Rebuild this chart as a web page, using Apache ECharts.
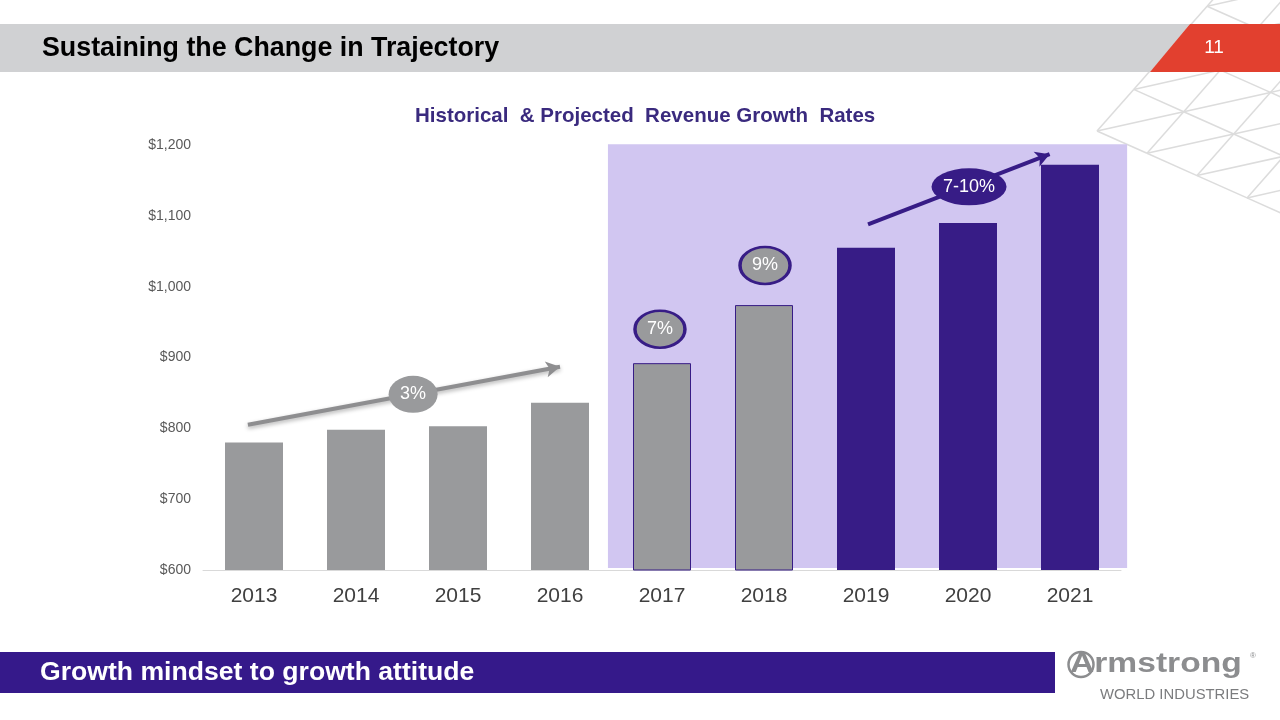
<!DOCTYPE html>
<html>
<head>
<meta charset="utf-8">
<script src="https://cdn.jsdelivr.net/npm/echarts@6/dist/echarts.min.js"></script>
<style>
html,body{margin:0;padding:0;background:#fff;}
#chart{width:1280px;height:720px;}
</style>
</head>
<body>
<div id="chart"></div>
<script>
// ---- data ----
const years = ['2013','2014','2015','2016','2017','2018','2019','2020','2021'];
const revenue = [780, 798, 803, 836, 892, 974, 1055, 1090, 1172];
const period = ['hist','hist','hist','hist','recent','recent','proj','proj','proj'];
const yMin = 600, yMax = 1200, yStep = 100;
const badgeText = ['3%', '7%', '9%', '7-10%'];
const badgeAnchor = [[1.56, 848], [3.98, 940], [5.01, 1030], [7.01, 1141]];
const arrowFrom = [[-0.06, 805], [6.02, 1088]];
const arrowTo = [[3.0, 887], [7.8, 1187]];
const projectedSpan = [[3.47, 603], [8.56, 1201]];

const GRAY = '#999A9C', PURPLE = '#371C86', LIGHT = '#D1C6F1';
const FONT = '"Liberation Sans", Arial, sans-serif';

const chart = echarts.init(document.getElementById('chart'), null, {renderer: 'canvas'});

const barData = revenue.map((v, i) => ({
  value: v,
  itemStyle: period[i] === 'proj' ? {color: PURPLE}
    : period[i] === 'recent' ? {color: GRAY, borderColor: PURPLE, borderWidth: 1}
    : {color: GRAY}
}));

const badgeStyles = [
  {color: GRAY, size: [49, 37], border: 0},
  {color: GRAY, size: [50, 37], border: 3},
  {color: GRAY, size: [50, 37], border: 3},
  {color: PURPLE, size: [75, 37], border: 0}
];
const badgeData = badgeText.map((t, i) => ({
  value: [badgeAnchor[i][0], badgeAnchor[i][1], t],
  symbolSize: badgeStyles[i].size,
  itemStyle: {color: badgeStyles[i].color, borderColor: PURPLE, borderWidth: badgeStyles[i].border, opacity: 1}
}));

// decorative lattice (top right)
const lattice = [];
const O = [1097, 131], U = [86.7, -19.3], V = [50, 22.3];
const node = (i, j) => [O[0] + i * U[0] + j * V[0], O[1] + i * U[1] + j * V[1]];
for (let i = 0; i <= 6; i++) {
  for (let j = -6; j <= 6; j++) {
    if (i + j < 0) continue;
    const p = node(i, j);
    lattice.push([p, node(i + 1, j)]);
    lattice.push([p, node(i, j + 1)]);
    lattice.push([p, node(i + 1, j - 1)]);
  }
}
const latticeEls = lattice.map(s => ({
  type: 'line', z: -10, silent: true,
  shape: {x1: s[0][0], y1: s[0][1], x2: s[1][0], y2: s[1][1]},
  style: {stroke: '#DCDCDC', lineWidth: 1.5}
}));

const staticGraphics = [
  ...latticeEls,
  // header band
  {type: 'polygon', z: 10, silent: true,
    shape: {points: [[0, 24], [1190, 24], [1150, 72], [0, 72]]},
    style: {fill: '#D0D1D3'}},
  {type: 'polygon', z: 10, silent: true,
    shape: {points: [[1190, 24], [1280, 24], [1280, 72], [1150, 72]]},
    style: {fill: '#E2402F'}},
  {type: 'text', z: 11, x: 42, y: 49, silent: true,
    style: {text: 'Sustaining the Change in Trajectory', fill: '#000',
      font: 'bold 26.8px ' + FONT, verticalAlign: 'middle', textVerticalAlign: 'middle'}},
  {type: 'text', z: 11, x: 1214, y: 48, silent: true,
    style: {text: '11', fill: '#fff', font: '19px ' + FONT,
      textAlign: 'center', align: 'center', verticalAlign: 'middle', textVerticalAlign: 'middle'}},
  // footer band
  {type: 'rect', z: 10, silent: true,
    shape: {x: 0, y: 652, width: 1055, height: 41},
    style: {fill: '#35198A'}},
  {type: 'text', z: 11, x: 40, y: 673, silent: true,
    style: {text: 'Growth mindset to growth attitude', fill: '#fff',
      font: 'bold 26.6px ' + FONT, verticalAlign: 'middle', textVerticalAlign: 'middle'}},
  // logo
  {type: 'circle', z: 10, silent: true,
    shape: {cx: 1081, cy: 664.5, r: 12.5},
    style: {fill: 'none', stroke: '#8C8D8F', lineWidth: 2.5}},
  {type: 'text', z: 11, x: 1070, y: 664, silent: true, scaleX: 1.2, originX: 0, originY: 0,
    style: {text: 'Armstrong', fill: '#8C8D8F', font: 'bold 28px ' + FONT,
      verticalAlign: 'middle', textVerticalAlign: 'middle'}},
  {type: 'text', z: 11, x: 1250, y: 656, silent: true,
    style: {text: '®', fill: '#8C8D8F', font: '8px ' + FONT,
      verticalAlign: 'middle', textVerticalAlign: 'middle'}},
  {type: 'text', z: 11, x: 1100, y: 695, silent: true, scaleX: 1.06, originX: 0, originY: 0,
    style: {text: 'WORLD INDUSTRIES', fill: '#7B7C7E', font: '14px ' + FONT,
      verticalAlign: 'middle', textVerticalAlign: 'middle'}}
];

const option = {
  backgroundColor: '#ffffff',
  animation: false,
  textStyle: {fontFamily: FONT},
  title: {
    text: 'Historical  & Projected  Revenue Growth  Rates',
    left: 410, top: 101,
    textStyle: {fontFamily: FONT, fontSize: 20.5, fontWeight: 'bold', color: '#3A2A7E'}
  },
  grid: {left: 203, right: 159, top: 145, bottom: 150, containLabel: false},
  xAxis: [
    {
      type: 'category', data: years,
      axisTick: {show: false},
      axisLine: {lineStyle: {color: '#D9D9D9', width: 1}},
      axisLabel: {fontSize: 21, color: '#404040', margin: 16, fontFamily: FONT}
    },
    {type: 'value', min: -0.5, max: 8.5, show: false}
  ],
  yAxis: {
    type: 'value', min: yMin, max: yMax, interval: yStep,
    splitLine: {show: false}, axisLine: {show: false}, axisTick: {show: false},
    axisLabel: {fontSize: 14, color: '#595959', margin: 12, fontFamily: FONT,
      formatter: v => '$' + v.toLocaleString('en-US')}
  },
  series: [
    {
      type: 'bar', data: barData, barWidth: 58, z: 3
    },
    {
      type: 'scatter', xAxisIndex: 1, z: 8, symbol: 'circle',
      data: badgeData,
      label: {show: true, position: 'inside', formatter: p => p.value[2],
        color: '#fff', fontSize: 18, fontFamily: FONT},
      emphasis: {disabled: true},
      markLine: {
        silent: true, z: 5, symbol: ['none', 'arrow'], symbolSize: [12, 14],
        label: {show: false},
        data: [
          [{coord: arrowFrom[0], lineStyle: {color: '#8E8E90', width: 4, type: 'solid',
              shadowBlur: 4, shadowColor: 'rgba(0,0,0,0.3)', shadowOffsetY: 2}},
           {coord: arrowTo[0]}],
          [{coord: arrowFrom[1], lineStyle: {color: PURPLE, width: 4, type: 'solid'}},
           {coord: arrowTo[1]}]
        ]
      }
    }
  ],
  graphic: staticGraphics
};

chart.setOption(option);

// projected-period background band, positioned through the chart's own axes
const p0 = chart.convertToPixel({xAxisIndex: 1, yAxisIndex: 0}, projectedSpan[0]);
const p1 = chart.convertToPixel({xAxisIndex: 1, yAxisIndex: 0}, projectedSpan[1]);
chart.setOption({
  graphic: staticGraphics.concat([{
    type: 'rect', z: -5, silent: true,
    shape: {x: p0[0], y: p1[1], width: p1[0] - p0[0], height: p0[1] - p1[1]},
    style: {fill: LIGHT}
  }])
});
</script>
</body>
</html>
